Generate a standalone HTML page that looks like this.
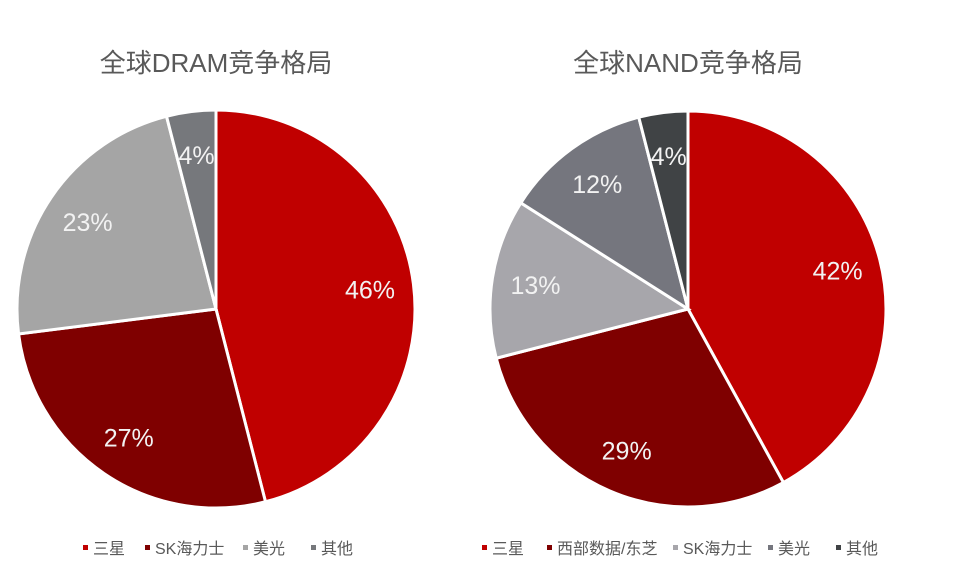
<!DOCTYPE html>
<html><head><meta charset="utf-8"><style>
html,body{margin:0;padding:0;background:#fff;}
svg{display:block;font-family:"Liberation Sans","Noto Sans CJK SC",sans-serif;}
</style></head><body>
<svg id="c" width="958" height="575" viewBox="0 0 958 575">
<text x="216" y="72" text-anchor="middle" font-size="26" fill="#595959">全球DRAM竞争格局</text>
<text x="688" y="72" text-anchor="middle" font-size="26" fill="#595959">全球NAND竞争格局</text>
<g id="p1"></g>
<g id="p2"></g>
<g id="l1"></g>
<g id="l2"></g>
</svg>
<script>
const dramCats=["三星","SK海力士","美光","其他"];
const dramVals=[46,27,23,4];
const dramColors=["#c00000","#7f0000","#a5a5a5","#76787c"];
const nandCats=["三星","西部数据/东芝","SK海力士","美光","其他"];
const nandVals=[42,29,13,12,4];
const nandColors=["#c00000","#7f0000","#a7a6ab","#75767e","#404345"];
const NS="http://www.w3.org/2000/svg";
function pie(g,cx,cy,r,vals,cols,prefix){
  const tot=vals.reduce((a,b)=>a+b,0);let a0=0;
  vals.forEach((v,i)=>{
    const a1=a0+v/tot*2*Math.PI;
    const p=(a)=>[cx+r*Math.sin(a),cy-r*Math.cos(a)];
    const [x0,y0]=p(a0),[x1,y1]=p(a1);
    const path=document.createElementNS(NS,"path");
    path.setAttribute("d",`M${cx},${cy}L${x0},${y0}A${r},${r} 0 ${a1-a0>Math.PI?1:0} 1 ${x1},${y1}Z`);
    path.setAttribute("fill",cols[i]);path.setAttribute("stroke","#fff");path.setAttribute("stroke-width","3");
    
    
    g.appendChild(path);
    const am=(a0+a1)/2,lr=r*0.78;
    const t=document.createElementNS(NS,"text");
    t.setAttribute("x",cx+lr*Math.sin(am));t.setAttribute("y",cy-lr*Math.cos(am)+9);
    t.setAttribute("text-anchor","middle");t.setAttribute("font-size","25");t.setAttribute("fill","#f2f2f2");
    t.textContent=v+"%";
    
    
    g.appendChild(t);
    a0=a1;
  });
}
function legend(g,xs,cats,cols,prefix){
  cats.forEach((c,i)=>{
    const m=document.createElementNS(NS,"rect");
    m.setAttribute("x",xs[i]-2);m.setAttribute("y",545);m.setAttribute("width",5);m.setAttribute("height",5);m.setAttribute("fill",cols[i]);
    
    
    g.appendChild(m);
    const t=document.createElementNS(NS,"text");
    t.setAttribute("x",xs[i]+8);t.setAttribute("y",554);t.setAttribute("font-size","16");t.setAttribute("fill","#595959");
    t.textContent=c;
    
    
    g.appendChild(t);
  });
}
pie(document.getElementById("p1"),216,309,199,dramVals,dramColors,"dram");
pie(document.getElementById("p2"),688,309,198,nandVals,nandColors,"nand");
legend(document.getElementById("l1"),[85,147,245,313],dramCats,dramColors,"dram");
legend(document.getElementById("l2"),[484,549,675,770,838],nandCats,nandColors,"nand");
</script>
</body></html>
